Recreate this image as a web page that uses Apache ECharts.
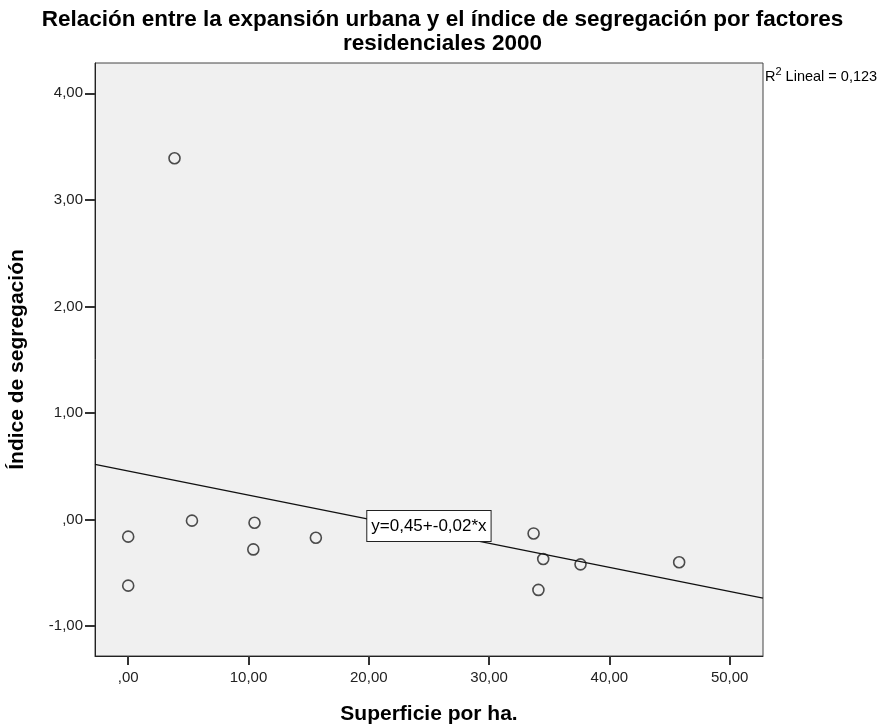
<!DOCTYPE html>
<html>
<head>
<meta charset="utf-8">
<script src="https://cdn.jsdelivr.net/npm/echarts@6/dist/echarts.min.js"></script>
<style>
html,body{margin:0;padding:0;background:#fff;}
#c{width:885px;height:728px;}
</style>
</head>
<body>
<div id="c"></div>
<script>
// Data
const superficie = [0.0, 0.0, 3.85, 5.3, 10.5, 10.4, 15.6, 33.7, 34.5, 34.1, 37.6, 45.8];
const segregacion = [-0.16, -0.62, 3.39, -0.01, -0.03, -0.28, -0.17, -0.13, -0.37, -0.66, -0.42, -0.40];
const xTicks = [0, 10, 20, 30, 40, 50];
const yTicks = [-1, 0, 1, 2, 3, 4];
const intercept = 0.455;
const slope = -0.0226;
const eqText = 'y=0,45+-0,02*x';
const r2Text = '0,123';
const xMin = -2.76, xMax = 52.77, yMin = -1.28, yMax = 4.284;

function fmt(v){
  let s = Math.abs(v).toFixed(2).replace('.', ',');
  if (s.startsWith('0,')) s = s.substring(1);
  return (v < 0 ? '-' : '') + s;
}

const pts = superficie.map((x, i) => [x, segregacion[i]]);
const linePts = [[xMin, intercept + slope * xMin], [xMax, intercept + slope * xMax]];
const FF = 'Liberation Sans, Arial';

const chart = echarts.init(document.getElementById('c'));
chart.setOption({
  animation: false,
  backgroundColor: '#fff',
  title: {
    text: 'Relación entre la expansión urbana y el índice de segregación por factores\nresidenciales 2000',
    left: 'center', top: 3,
    textStyle: {fontFamily: FF, fontWeight: 'bold', fontSize: 22.5, color: '#000', lineHeight: 24}
  },
  graphic: [{
    type: 'text', left: 765, top: 66,
    style: {
      text: '{a|R}{s|2}{a| Lineal = ' + r2Text + '}',
      rich: {
        a: {fontFamily: FF, fontSize: 14.5, color: '#000', verticalAlign: 'bottom'},
        s: {fontFamily: FF, fontSize: 11, color: '#000', verticalAlign: 'top', padding: [0,0,7,0]}
      }
    }
  }],
  grid: {left: 95, right: 122, top: 63, bottom: 72, outerBoundsMode: 'none', containLabel: false,
         show: true, backgroundColor: '#f0f0f0', borderColor: '#444', borderWidth: 1},
  xAxis: {
    type: 'value', min: xMin, max: xMax,
    name: 'Superficie por ha.', nameLocation: 'middle', nameGap: 48,
    nameTextStyle: {fontFamily: FF, fontWeight: 'bold', fontSize: 21, color: '#000'},
    axisLine: {show: true, onZero: false, lineStyle: {color: '#222'}},
    axisTick: {show: true, customValues: xTicks, length: 9, lineStyle: {color: '#333', width: 2}},
    axisLabel: {customValues: xTicks, formatter: fmt, fontFamily: FF, fontSize: 15, color: '#222', margin: 14},
    splitLine: {show: false}
  },
  yAxis: {
    type: 'value', min: yMin, max: yMax,
    name: 'Índice de segregación', nameLocation: 'middle', nameGap: 67, nameRotate: 90,
    nameTextStyle: {fontFamily: FF, fontWeight: 'bold', fontSize: 21, color: '#000'},
    axisLine: {show: true, onZero: false, lineStyle: {color: '#222'}},
    axisTick: {show: true, customValues: yTicks, length: 10, lineStyle: {color: '#333', width: 2}},
    axisLabel: {customValues: yTicks, formatter: fmt, fontFamily: FF, fontSize: 15, color: '#222', margin: 12},
    splitLine: {show: false}
  },
  series: [
    {
      type: 'line', data: linePts, symbol: 'none', silent: true,
      lineStyle: {color: '#111', width: 1.3},
      markPoint: {
        symbol: 'rect', symbolSize: 0,
        data: [{coord: [25.0, -0.06]}],
        label: {
          show: true, formatter: eqText, position: 'inside',
          fontFamily: FF, fontSize: 17, color: '#000',
          backgroundColor: '#fff', borderColor: '#222', borderWidth: 1, padding: [7, 4, 6, 4]
        }
      }
    },
    {
      type: 'scatter', data: pts, symbol: 'circle', symbolSize: 11,
      itemStyle: {color: 'rgba(0,0,0,0)', borderColor: '#222', borderWidth: 1.6}
    }
  ]
});
</script>
</body>
</html>
